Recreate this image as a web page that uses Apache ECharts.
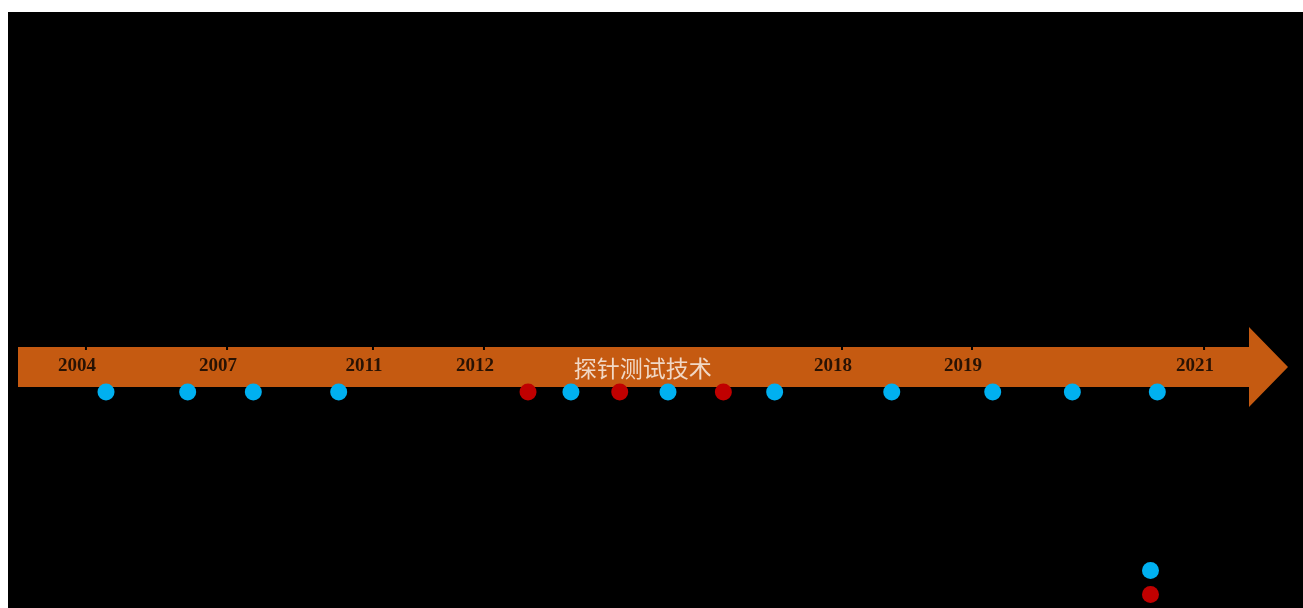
<!DOCTYPE html>
<html>
<head>
<meta charset="utf-8">
<script src="https://cdn.jsdelivr.net/npm/echarts@6/dist/echarts.min.js"></script>
<style>
  html, body { margin: 0; padding: 0; background: #ffffff; }
  #chart { position: absolute; left: 8px; top: 12px; width: 1295px; height: 596px; }
</style>
</head>
<body>
<div id="chart"></div>
<script>
// Timeline span (abstract position scale 0..100 along the arrow)
const arrowSpan = [0, 100];
// Year tick labels and their positions along the timeline
const years = ['2004', '2007', '2011', '2012', '2018', '2019', '2021'];
const yearPos = [5.35, 16.46, 27.95, 36.69, 64.88, 75.12, 93.39];
// Title on the arrow
const arrowTitle = '探针测试技术';
const arrowTitlePos = 49.2;
// Event nodes (positions along timeline)
const seriesNames = ['类型一', '类型二'];
const bluePos = [6.93, 13.36, 18.53, 25.25, 43.54, 51.18, 59.58, 68.80, 76.75, 83.02, 89.71];
const redPos = [40.16, 47.38, 55.54];

const chart = echarts.init(document.getElementById('chart'));
const option = {
  backgroundColor: '#000000',
  animation: false,
  grid: { left: 10, right: 15, top: 315, height: 80 },
  xAxis: { type: 'value', min: 0, max: 100, show: false },
  yAxis: { type: 'value', min: -1, max: 1, show: false },
  legend: {
    data: seriesNames,
    orient: 'vertical',
    left: 1134,
    top: 550,
    padding: 0,
    itemWidth: 17,
    itemHeight: 17,
    itemGap: 7,
    icon: 'circle',
    textStyle: { color: '#000000', fontSize: 12 }
  },
  series: [
    {
      type: 'custom',
      name: 'arrow',
      silent: true,
      clip: false,
      z: 1,
      data: [[arrowSpan[0], arrowSpan[1]]],
      renderItem: function (params, api) {
        const a = api.coord([api.value(0), 0]);
        const b = api.coord([api.value(1), 0]);
        const y = a[1];
        const head = 39, bh = 20, hh = 40;
        return {
          type: 'polygon',
          shape: {
            points: [
              [a[0], y - bh], [b[0] - head, y - bh], [b[0] - head, y - hh],
              [b[0], y], [b[0] - head, y + hh], [b[0] - head, y + bh], [a[0], y + bh]
            ]
          },
          style: { fill: '#c55a11' }
        };
      }
    },
    {
      type: 'scatter',
      name: 'ticks',
      silent: true,
      z: 2,
      symbol: 'rect',
      symbolSize: [2, 4],
      symbolOffset: [0, -19],
      itemStyle: { color: '#000000', opacity: 1 },
      data: yearPos.map(function (p) { return [p, 0]; })
    },
    {
      type: 'scatter',
      name: 'years',
      silent: true,
      z: 3,
      symbolSize: 0,
      data: yearPos.map(function (p, i) { return { value: [p, 0], name: years[i] }; }),
      label: {
        show: true,
        position: 'inside',
        offset: [-9, -1],
        formatter: '{b}',
        color: '#000000',
        fontFamily: 'Liberation Serif',
        fontWeight: 'bold',
        fontSize: 19
      }
    },
    {
      type: 'scatter',
      name: 'title',
      silent: true,
      z: 3,
      symbolSize: 0,
      data: [{ value: [arrowTitlePos, 0], name: arrowTitle }],
      label: {
        show: true,
        position: 'inside',
        offset: [0, 1],
        formatter: '{b}',
        color: '#fbf7f2',
        fontFamily: 'Noto Sans CJK SC',
        fontSize: 23
      }
    },
    {
      type: 'scatter',
      name: seriesNames[0],
      z: 4,
      symbol: 'circle',
      symbolSize: 17,
      symbolOffset: [0, 25],
      itemStyle: { color: '#00b0f0', opacity: 1 },
      data: bluePos.map(function (p) { return [p, 0]; })
    },
    {
      type: 'scatter',
      name: seriesNames[1],
      z: 4,
      symbol: 'circle',
      symbolSize: 17,
      symbolOffset: [0, 25],
      itemStyle: { color: '#c00000', opacity: 1 },
      data: redPos.map(function (p) { return [p, 0]; })
    }
  ]
};
chart.setOption(option);
</script>
</body>
</html>
